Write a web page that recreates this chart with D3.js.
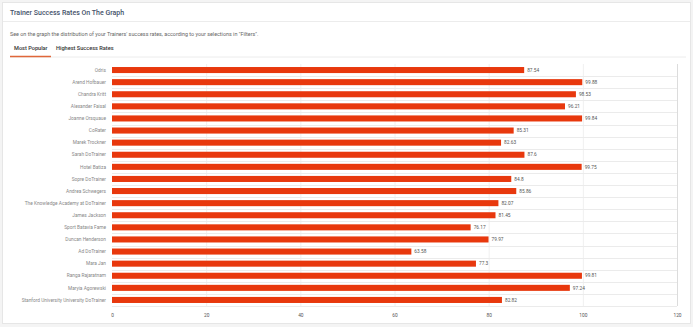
<!DOCTYPE html>
<html><head><meta charset="utf-8">
<script src="https://cdn.jsdelivr.net/npm/d3@7"></script>
<style>
html,body{margin:0;padding:0;background:#f4f4f4;}
svg{display:block;font-family:Roboto, "Noto Sans", sans-serif;}
</style></head>
<body>
<svg id="c" width="693" height="327"></svg>
<script>
const trainers = ["Odris","Arend Hofbauer","Chandra Kritt","Alexander Faisal","Joanne Orsquaue","CoRater","Marek Trockner","Sarah DoTrainer","Hotel Batiza","Sopre DoTrainer","Andrea Schwegers","The Knowledge Academy at DoTrainer","James Jackson","Sport Batavia Fame","Duncan Henderson","Ad DoTrainer","Mara Jan","Ranga Rajaratnam","Maryia Agorewski","Stanford University University DoTrainer"];
const successRates = [87.54,99.88,98.53,96.21,99.84,85.31,82.63,87.6,99.75,84.8,85.86,82.07,81.45,76.17,79.97,63.58,77.3,99.81,97.24,82.82];
const xTicks = [0,20,40,60,80,100,120];

const svg = d3.select("#c");
svg.append("rect").attr("x",2.5).attr("y",2.5).attr("width",688).attr("height",321).attr("fill","#fff").attr("stroke","#e6e6e6");
svg.append("text").attr("x",10).attr("y",15).attr("font-size",7).attr("font-weight",500).attr("fill","#45526a").text("Trainer Success Rates On The Graph");
svg.append("line").attr("x1",3).attr("x2",690).attr("y1",21.5).attr("y2",21.5).attr("stroke","#ececec");
svg.append("text").attr("x",10).attr("y",36).attr("font-size",5.4).attr("fill","#666").text("See on the graph the distribution of your Trainers' success rates, according to your selections in \"Filters\".");
svg.append("text").attr("x",14).attr("y",50).attr("font-size",5.6).attr("font-weight",500).attr("fill","#333").text("Most Popular");
svg.append("text").attr("x",56).attr("y",50).attr("font-size",5.6).attr("font-weight",500).attr("fill","#333").text("Highest Success Rates");
svg.append("line").attr("x1",10).attr("x2",686).attr("y1",57).attr("y2",57).attr("stroke","#ececec");
svg.append("line").attr("x1",10).attr("x2",51).attr("y1",56.5).attr("y2",56.5).attr("stroke","#e0673a").attr("stroke-width",1.5);

const x = d3.scaleLinear().domain([0,120]).range([112,677]);
const y = d3.scaleBand().domain(trainers).range([64,306]).paddingInner(0.5).paddingOuter(0.25);

const g = svg.append("g");
g.selectAll("line.v").data(xTicks.slice(1)).join("line").attr("class","v")
  .attr("x1",d=>x(d)+0.5).attr("x2",d=>x(d)+0.5).attr("y1",64).attr("y2",306)
  .attr("stroke",d=>d===120?"#dcdcdc":"#f0f0f0");
const step = y.step();
const bounds = trainers.slice(1).map(t=>y(t)-y.paddingInner()*step/2);
g.selectAll("line.h").data(bounds).join("line").attr("class","h")
  .attr("x1",112).attr("x2",677).attr("y1",d=>Math.round(d)+0.5).attr("y2",d=>Math.round(d)+0.5)
  .attr("stroke","#ebebeb");
g.append("line").attr("x1",112).attr("x2",677).attr("y1",306.5).attr("y2",306.5).attr("stroke","#ebebeb");

g.selectAll("rect.bar").data(trainers).join("rect").attr("class","bar")
  .attr("x",x(0)).attr("y",d=>y(d)).attr("height",y.bandwidth())
  .attr("width",(d,i)=>x(successRates[i])-x(0)).attr("fill","#e8380d");

g.selectAll("text.val").data(trainers).join("text").attr("class","val")
  .attr("x",(d,i)=>x(successRates[i])+3).attr("y",d=>y(d)+y.bandwidth()/2).attr("dy","0.35em")
  .attr("font-size",4.8).attr("fill","#555").text((d,i)=>successRates[i]);

g.selectAll("text.lab").data(trainers).join("text").attr("class","lab")
  .attr("x",106).attr("y",d=>y(d)+y.bandwidth()/2).attr("dy","0.35em").attr("text-anchor","end")
  .attr("font-size",4.8).attr("fill","#888").text(d=>d);

const axis = d3.axisBottom(x).tickValues(xTicks).tickSize(0).tickPadding(0);
const ag = svg.append("g").attr("transform","translate(0,314)").call(axis);
ag.select(".domain").remove();
ag.selectAll("text").attr("font-size",4.8).attr("fill","#555").attr("font-family","Roboto, sans-serif");
</script>
</body></html>
